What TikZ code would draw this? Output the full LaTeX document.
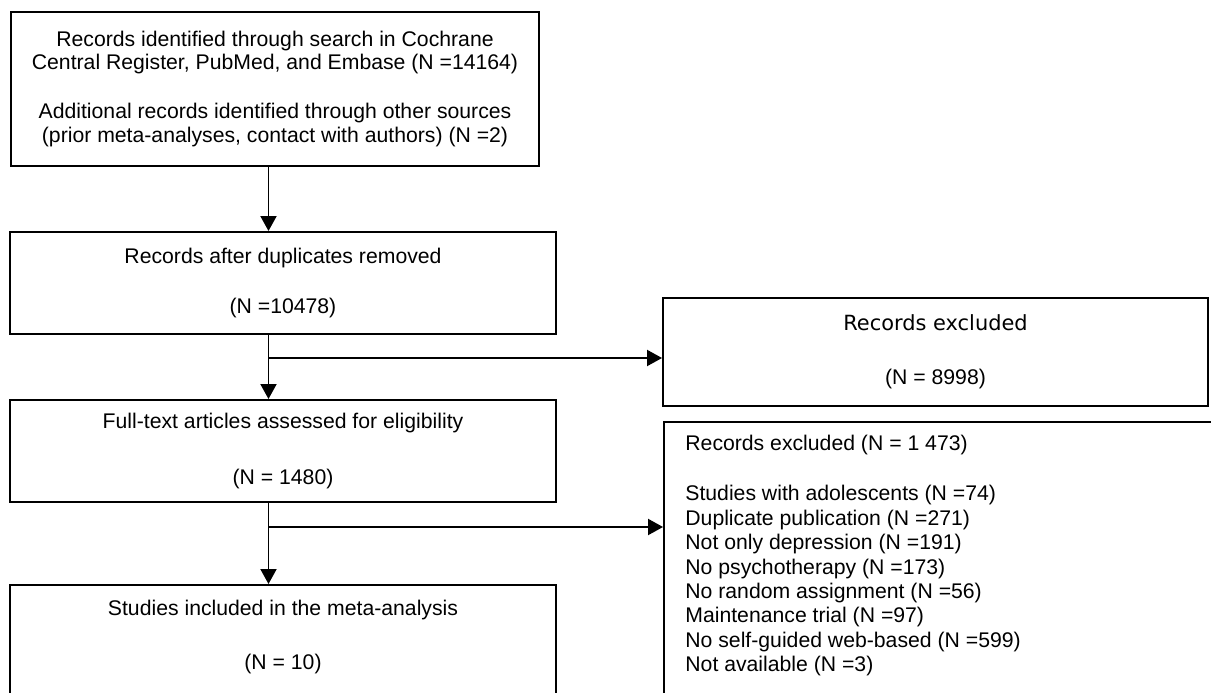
\documentclass[tikz,border=0pt]{standalone}
\usepackage{fontspec}
\setmainfont{Liberation Sans}
\newfontfamily\verdanafont{DejaVu Sans}
\usetikzlibrary{arrows.meta}

\tikzset{
  box/.style={draw, line width=1.15pt, rectangle, inner sep=0pt, align=center,
    font=\fontsize{12.07}{13.9}\selectfont},
  boxtext/.style={inner sep=0pt, font=\fontsize{12.07}{13.9}\selectfont},
  arr/.style={line width=1.1pt, -{Triangle[length=0.3cm,width=0.32cm]}}
}

\begin{document}
\begin{tikzpicture}[x=0.02cm, y=-0.02cm]
  \useasboundingbox (0,0) rectangle (1211,693);
  \clip (0,0) rectangle (1211,693);
  % linke Spalte
  \node[box, minimum width=10.56cm, minimum height=3.08cm,
    font=\fontsize{12.07}{13.1}\selectfont] (search) at (275,89)
    {Records identified through search in Cochrane\\
     Central Register, PubMed, and Embase (N =14164)\\[14.8pt]
     Additional records identified through other sources\\
     (prior meta-analyses, contact with authors) (N =2)};
  \node[box, minimum width=10.92cm, minimum height=2.04cm] (dup) at (283,283)
    {Records after duplicates removed\\[15pt](N =10478)};
  \node[box, minimum width=10.92cm, minimum height=2.04cm] (full) at (283,451)
    {Full-text articles assessed for eligibility\\[18pt](N = 1480)};
  \node[box, minimum width=10.92cm, minimum height=2.5cm] (incl) at (283,647.5) {};
  \node[boxtext, align=center] (incltext) at (283,637)
    {Studies included in the meta-analysis\\[16.3pt](N = 10)};
  % rechte Spalte
  \node[box, minimum width=10.9cm, minimum height=2.16cm] (excl1) at (935.5,352)
    {{\verdanafont\fontsize{11.9}{13.9}\selectfont Records excluded}\\[16.8pt](N = 8998)};
  \node[box, minimum width=11.12cm, minimum height=5.96cm] (excl2) at (942,571) {};
  \node[boxtext, align=left, anchor=north west] (excl2text)
    at ([xshift=0.44cm, yshift=-0.28cm]excl2.north west)
    {Records excluded (N = 1 473)\\[14.6pt]
     Studies with adolescents (N =74)\\
     Duplicate publication (N =271)\\
     Not only depression (N =191)\\
     No psychotherapy (N =173)\\
     No random assignment (N =56)\\
     Maintenance trial (N =97)\\
     No self-guided web-based (N =599)\\
     Not available (N =3)};
  % Pfeile
  \coordinate (spine) at (268.5,0);
  \coordinate (fork1) at (268.5,358);
  \coordinate (fork2) at (268.5,527);
  \draw[arr] (search.south -| spine) -- (dup.north -| spine);
  \draw[arr] (dup.south -| spine) -- (full.north -| spine);
  \draw[arr] (full.south -| spine) -- (incl.north -| spine);
  \draw[arr] (fork1) -- (fork1 -| excl1.west);
  \draw[arr] (fork2) -- (fork2 -| excl2.west);
\end{tikzpicture}
\end{document}
